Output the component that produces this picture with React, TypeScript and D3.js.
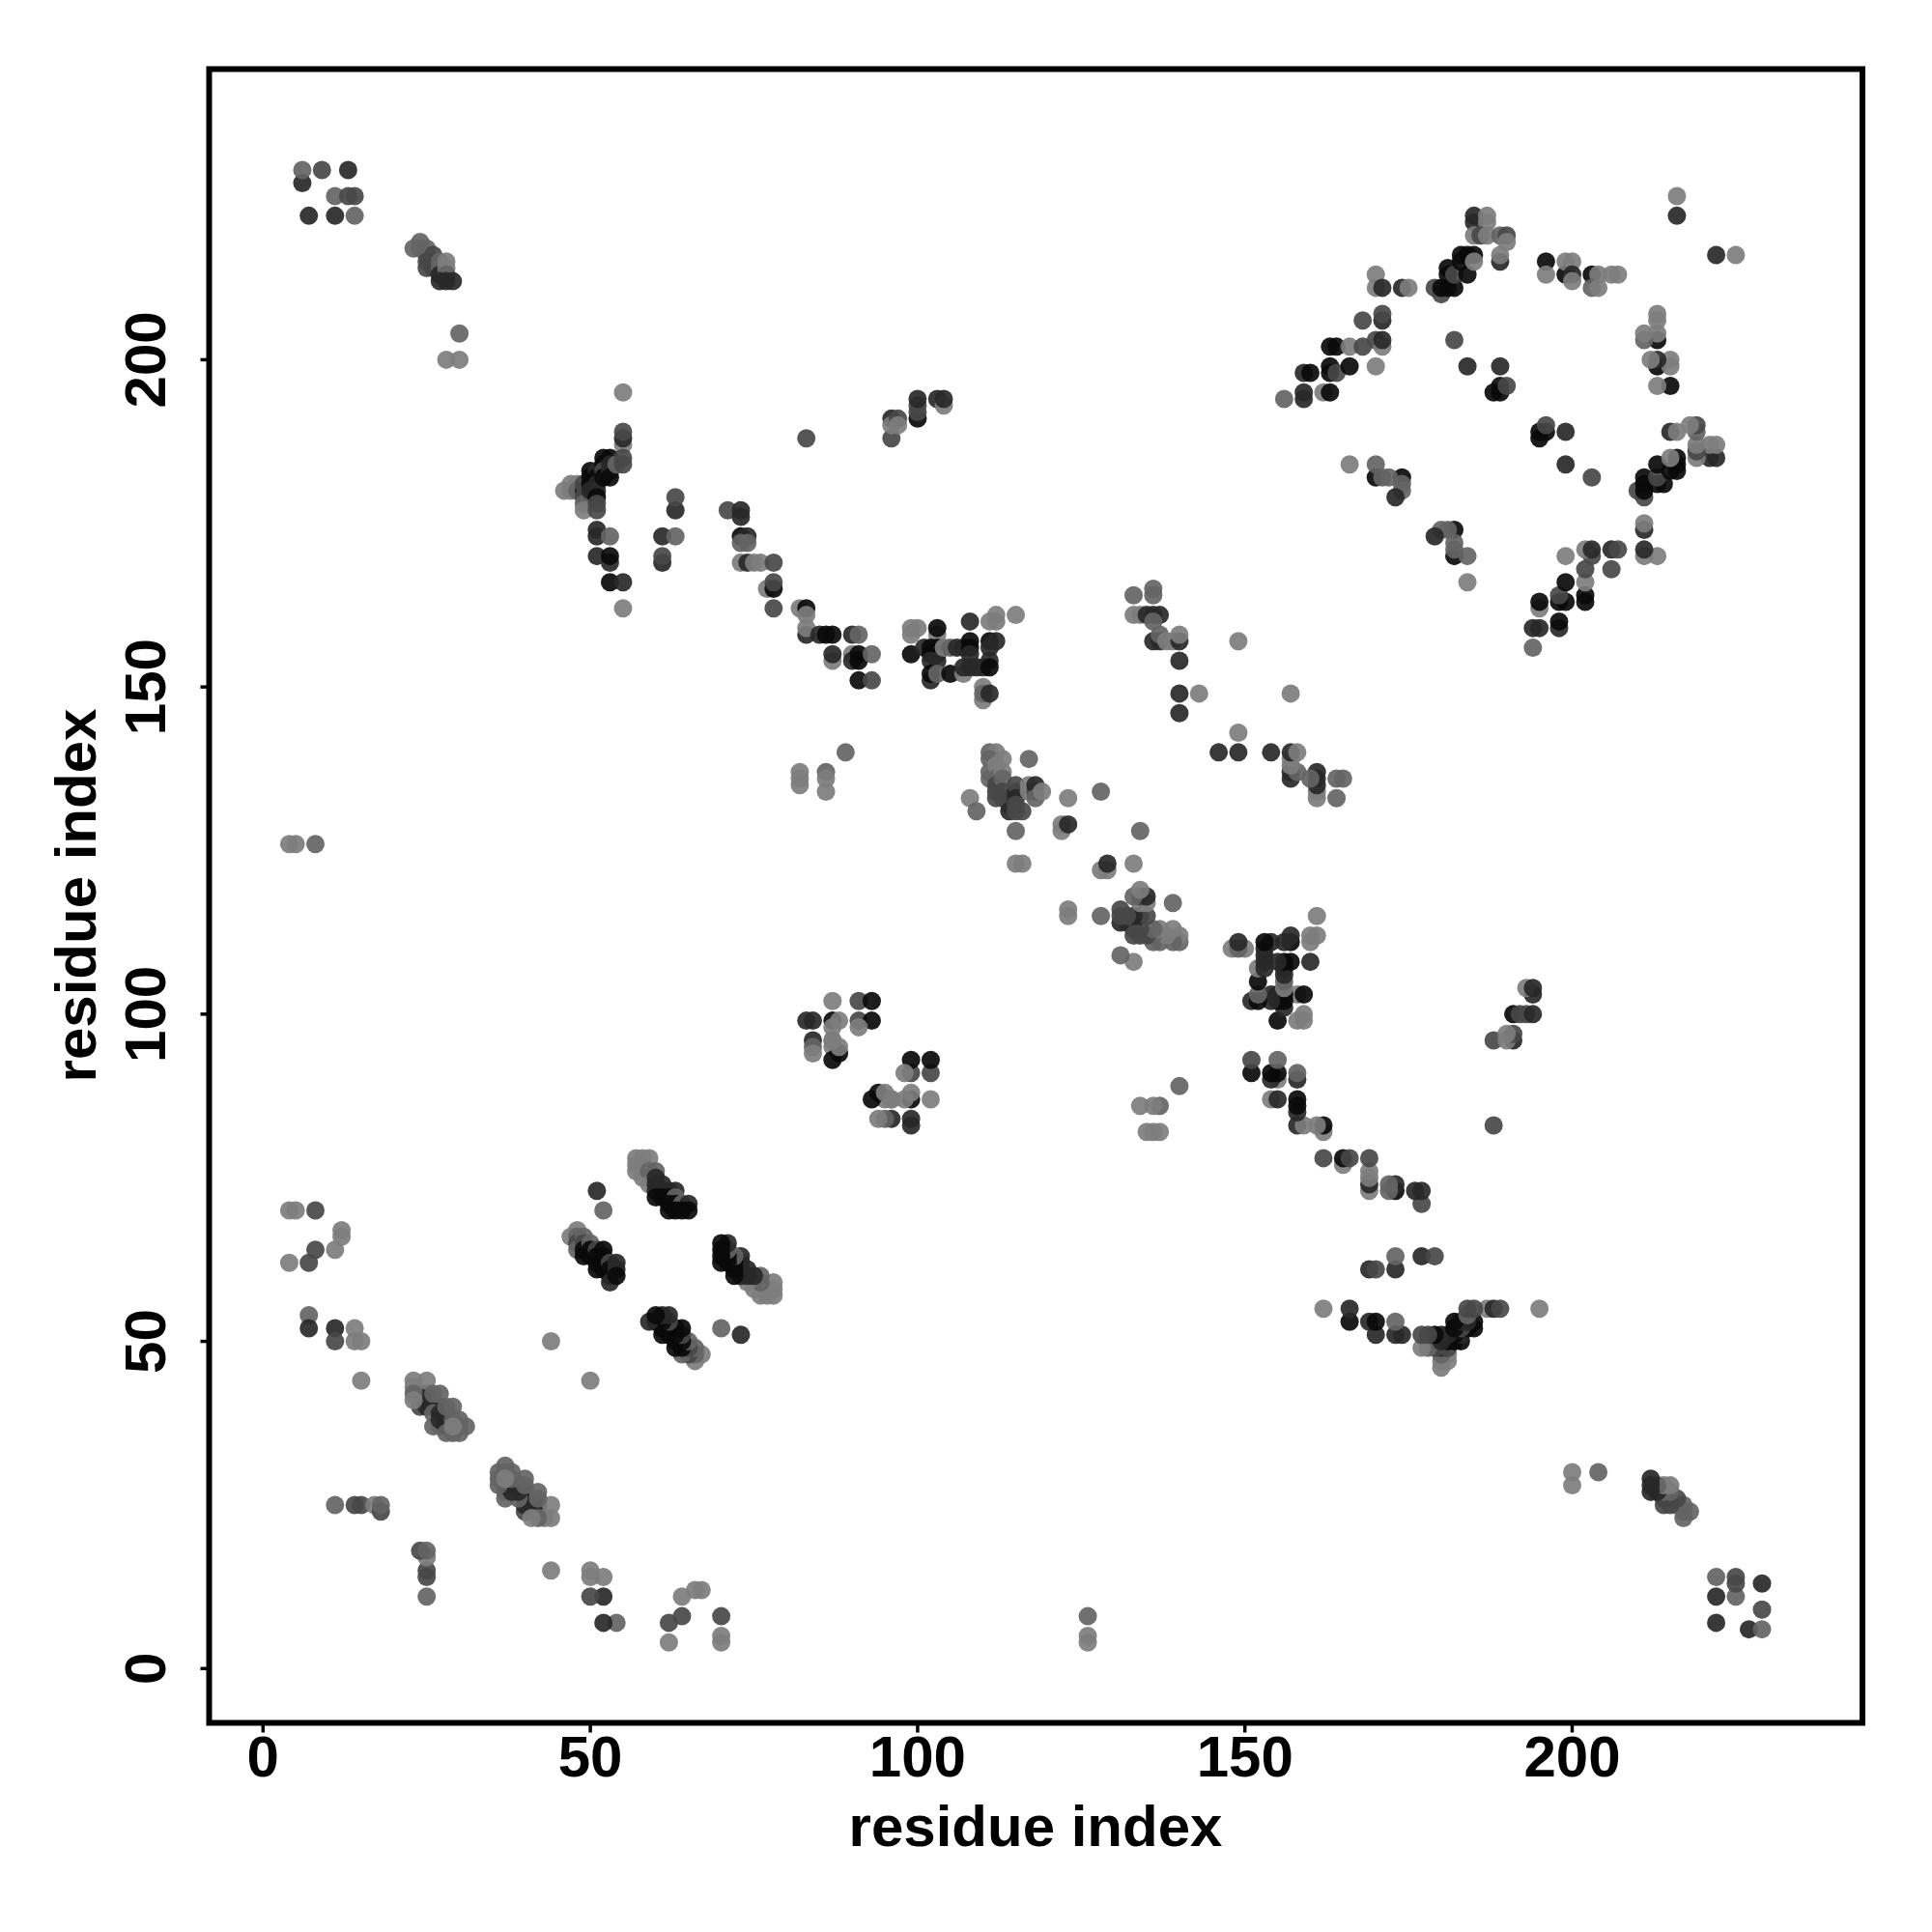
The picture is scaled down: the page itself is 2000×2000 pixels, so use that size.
import React from "react";
import * as d3 from "d3";

const B = 10, K = 40, D = 72, M = 100, L = 125;

const xTicks = [0, 50, 100, 150, 200];
const yTicks = [0, 50, 100, 150, 200];
const axisLabel = "residue index";

const lowIndex = [
  [6,227,K],[6,229,M],[7,222,K],[9,229,D],[11,222,K],[11,225,M],[13,229,K],[13,225,D],[14,225,D],[14,222,M],
  [4,70,L],[5,70,L],[8,70,D],[4,62,L],[7,62,D],[8,64,D],[11,64,L],[12,67,L],[12,66,L],[7,54,M],[7,52,K],[11,52,K],[11,50,D],[14,52,L],[14,50,L],[15,50,L],[15,44,L],
  [4,126,L],[5,126,L],[8,126,M],
  [11,25,M],[14,25,D],[15,25,D],[17,25,L],[18,24,D],[18,25,M],
  [44,50,L],[28,200,L],[30,200,L],[30,204,M],
];
const helixA = [
  [24,40,D],[25,40,K],[26,40,K],[27,40,K],[25,41,K],[25,42,K],[24,42,K],[26,39,M],[27,39,K],[28,39,K],[26,37,M],[27,37,M],[27,38,K],[28,37,K],[28,38,K],
  [23,44,L],[25,44,L],[23,43,L],[23,42,M],[23,41,L],[26,42,M],[27,42,M],[28,40,M],[29,40,M],[29,38,M],[30,38,M],[28,36,M],[29,36,M],[30,36,M],[31,37,M],[30,37,M],[29,37,L],
];
const helixB = [
  [24,218,M],[23,217,M],[24,217,M],[25,217,M],[25,216,M],[26,216,D],[25,215,D],[26,215,D],[26,214,K],[25,214,D],[27,215,M],[27,214,M],[27,213,K],[28,215,L],[28,214,L],[28,213,M],[27,212,K],[28,212,K],[29,212,K],
];
const sheetA = [
  [47,66,L],[48,67,L],[48,66,M],[48,65,D],[48,64,M],[49,66,M],[49,65,D],[49,64,B],[49,63,B],[50,65,M],[50,64,B],[50,63,B],[51,64,D],[51,63,B],[51,62,B],[51,61,B],[52,64,B],[52,63,B],[52,62,B],[52,61,B],[53,62,D],[53,61,B],[53,60,B],[53,59,K],[54,62,K],[54,61,K],[54,60,B],
];
const sheetB = [
  [57,78,L],[58,78,L],[59,78,L],[57,77,L],[57,76,L],[58,75,L],[59,76,M],[60,76,M],[59,74,L],[60,75,K],[60,74,K],[61,74,K],[60,73,K],[61,73,K],[62,73,K],[63,73,K],[60,72,B],[61,72,B],[62,72,B],[63,72,M],[62,71,B],[63,71,B],[64,71,M],[65,71,K],[62,70,B],[63,70,B],[64,70,B],[65,70,B],
  [51,73,K],[52,70,M],
];
const arcA = [
  [46,180,L],[47,181,L],[47,180,L],[48,181,L],[48,180,M],[49,180,K],[49,181,D],[49,179,D],[49,178,M],[49,177,L],[50,183,B],[50,182,B],[50,181,B],[50,180,K],[51,183,K],[51,182,B],[51,181,K],[51,180,K],[51,179,B],[51,178,D],[51,177,D],[51,174,K],[51,173,K],[51,170,K],[52,185,B],[52,184,B],[52,183,D],[52,182,B],[53,185,B],[53,184,K],[53,183,K],[53,182,B],[53,173,M],[53,169,K],[53,170,B],[53,166,B],[54,184,M],[55,195,L],[55,187,L],[55,188,K],[55,189,D],[55,185,D],[55,184,D],[55,166,K],[55,162,L],
  [61,169,K],[61,170,D],[61,173,K],[63,173,M],[63,177,K],[63,179,D],
];
const arcB = [
  [71,177,D],[73,176,K],[73,177,K],[73,173,B],[74,173,K],[73,172,M],[74,172,M],[73,169,L],[74,169,K],[75,169,L],[76,169,L],[78,169,D],[77,165,L],[78,165,B],[78,166,D],[78,162,D],[82,162,L],[83,162,B],[83,161,L],[83,158,K],[83,159,L],[85,158,K],[86,158,B],[87,158,B],[90,158,K],[91,158,M],[87,154,L],[87,155,K],[90,155,L],[90,154,K],[91,155,B],[91,154,B],[93,155,M],[91,151,B],[93,151,D],
  [83,188,D],[96,188,D],[96,191,K],[96,190,L],[97,191,D],[97,190,L],[100,191,B],[100,192,D],[100,193,D],[100,194,K],[103,194,K],[104,193,L],[104,194,K],
  [89,140,M],[82,137,L],[82,136,L],[82,135,L],[86,137,M],[86,136,L],[86,134,L],
];
const blockA = [
  [83,99,K],[84,99,K],[84,96,K],[84,95,M],[84,94,L],[87,99,B],[87,96,L],[87,95,L],[87,93,B],[87,98,L],[87,102,L],[88,94,B],[88,95,L],[88,99,L],[91,102,D],[93,102,B],[91,99,D],[93,99,B],[91,98,L],[87,96,L],
];
const blockB = [
  [99,159,L],[99,158,L],[100,159,L],[103,158,L],[103,159,B],[99,155,B],[101,156,K],[102,156,B],[102,155,B],[103,156,B],[103,155,B],[103,154,K],[102,154,K],[102,151,K],[102,152,B],[103,152,M],[104,156,L],[105,156,M],[105,152,B],[106,156,K],[107,156,K],[107,152,L],[107,153,K],[108,160,K],[108,157,B],[108,156,B],[108,155,K],[108,153,K],[109,153,K],[110,153,K],[111,160,L],[111,157,B],[111,156,K],[111,154,K],[111,153,B],[112,160,L],[112,161,L],[112,157,K],[115,161,L],[110,148,L],[110,150,L],[110,149,M],[111,149,K],
];
const helixC = [
  [111,140,M],[112,140,L],[111,139,M],[113,139,L],[111,137,M],[111,136,M],[112,138,L],[112,136,M],[112,135,D],[112,134,D],[112,133,D],[113,137,L],[113,136,M],[113,134,D],[113,133,D],[114,133,D],[114,132,D],[114,131,K],[115,134,K],[115,135,D],[115,133,K],[115,132,D],[115,131,D],[116,131,D],[117,139,M],[117,134,L],[117,135,L],[118,134,D],[118,135,K],[118,133,M],[119,134,L],[108,133,L],[109,131,M],[115,128,M],[115,123,L],[116,123,L],
  [122,128,L],[122,129,L],[123,129,K],[123,133,L],[128,134,M],
];
const blockC = [
  [133,164,M],[136,165,M],[136,164,M],[133,161,L],[134,161,L],[135,161,K],[136,161,K],[137,161,K],[136,160,M],[136,157,K],[137,157,K],[137,158,M],[138,157,L],[139,157,L],[140,157,K],[140,158,L],[140,154,K],[140,149,K],[143,149,L],[140,146,K],[149,157,L],
];
const topRing = [
  [156,194,M],[159,194,K],[159,195,K],[162,195,L],[163,195,B],[159,198,K],[160,198,B],[163,198,B],[163,199,B],[164,198,D],[166,199,B],[170,199,L],[163,202,B],[164,202,B],[166,202,L],[168,202,D],[170,203,D],[171,202,L],[171,203,K],[168,206,D],[171,206,K],[171,207,D],[170,213,L],[170,211,L],[171,211,K],[174,211,K],[175,211,L],[179,211,D],[180,210,D],[180,211,B],[181,211,B],[182,211,B],[181,213,B],[181,214,B],[182,213,D],[183,215,B],[183,216,B],[184,216,B],[185,216,B],[184,213,B],[185,215,L],[185,221,K],[185,222,K],[187,221,L],[187,222,L],[185,219,L],[186,219,D],[187,219,L],[189,219,M],[190,219,D],[190,218,L],[189,215,K],[189,216,L],
  [182,203,D],[184,199,K],[189,199,K],[188,195,B],[189,195,B],[189,196,B],[190,196,D],
  [196,215,B],[196,213,L],[199,213,B],[199,215,L],[200,215,L],[200,213,K],[200,212,L],[203,213,B],[204,213,L],[203,211,M],[204,211,L],[206,213,L],[207,213,L],[216,222,K],[216,225,L],
  [166,184,L],[170,182,B],[170,184,M],[171,182,M],[174,182,B],[172,182,M],[174,180,M],[174,181,M],[173,179,K],
];
const contactGroups = [lowIndex, helixA, helixB, sheetA, sheetB, arcA, arcB, blockA, blockB, helixC, blockC, topRing];

export default function App() {
  const x = d3.scaleLinear().domain([0, 200]).range([272.3, 1627.5]);
  const y = d3.scaleLinear().domain([0, 200]).range([1727.3, 372.4]);
  const frame = { left: 216.5, right: 1928, top: 71.5, bottom: 1783.5 };
  const gray = (s: number) => d3.rgb(s, s, s).formatHex();
  const points = contactGroups.flat();
  const font = { fontFamily: "'Liberation Sans', sans-serif", fontWeight: 700, fontSize: 60, fill: "#000" };

  return (
    <svg width={2000} height={2000} style={{ position: "absolute", left: 0, top: 0, display: "block" }}>
      <rect width={2000} height={2000} fill="#fff" />
      {points.map(([i, j, s], k) => (
        <g key={k} fill={gray(s)} fillOpacity={0.92}>
          <circle cx={x(i)} cy={y(j)} r={9.5} />
          <circle cx={x(j)} cy={y(i)} r={9.5} />
        </g>
      ))}
      <rect x={frame.left} y={frame.top} width={frame.right - frame.left} height={frame.bottom - frame.top} fill="none" stroke="#000" strokeWidth={6} />
      {xTicks.map((t) => (
        <g key={t}>
          <line x1={x(t)} x2={x(t)} y1={frame.bottom} y2={frame.bottom + 10} stroke="#000" strokeWidth={3.5} />
          <text x={x(t)} y={1839} textAnchor="middle" {...font}>{t}</text>
        </g>
      ))}
      {yTicks.map((t) => (
        <g key={t}>
          <line x1={frame.left} x2={frame.left - 9} y1={y(t)} y2={y(t)} stroke="#000" strokeWidth={3.5} />
          <text transform={`translate(171,${y(t)}) rotate(-90)`} textAnchor="middle" {...font}>{t}</text>
        </g>
      ))}
      <text x={1072} y={1911} textAnchor="middle" {...font}>{axisLabel}</text>
      <text transform="translate(99,927) rotate(-90)" textAnchor="middle" {...font}>{axisLabel}</text>
    </svg>
  );
}
